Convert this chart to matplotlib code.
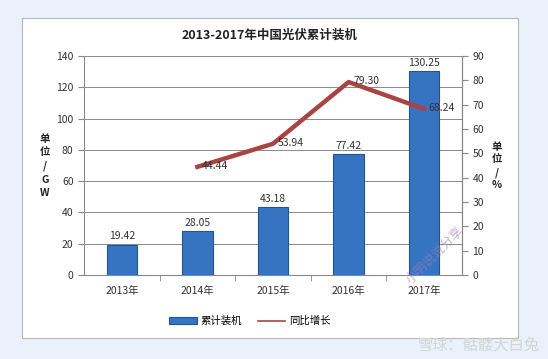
import matplotlib
matplotlib.use("Agg")
import matplotlib.pyplot as plt
from matplotlib.patches import Rectangle
from matplotlib.lines import Line2D

plt.rcParams['font.family'] = ['Noto Sans CJK SC', 'DejaVu Sans']

years = ["2013年", "2014年", "2015年", "2016年", "2017年"]
capacity = [19.42, 28.05, 43.18, 77.42, 130.25]
growth_years = ["2014年", "2015年", "2016年", "2017年"]
growth = [44.44, 53.94, 79.30, 68.24]

W, H = 548, 359
fig = plt.figure(figsize=(W/100, H/100), dpi=100)
fig.patch.set_facecolor('#eaf1fa')
panel = Rectangle((22/W, 1-338/H), (518-22)/W, (338-18)/H, transform=fig.transFigure,
                  facecolor='white', edgecolor='#b8b8b8', lw=0.8, zorder=-10)
fig.add_artist(panel)

ax = fig.add_axes([84/W, 1-275/H, (462-84)/W, (275-56)/H])
ax.set_facecolor('white')
x = list(range(len(years)))
bars = ax.bar(x, capacity, width=0.4, color='#3674c2', edgecolor='#24548f', lw=0.8, zorder=3,
              label='累计装机')
ax.set_xlim(-0.5, len(years)-0.5)
ax.set_ylim(0, 140)
ax.set_yticks(range(0, 141, 20))
ax.yaxis.grid(True, color='#8a8a8a', lw=0.7, zorder=0)
ax.set_axisbelow(True)
ax.set_xticks(x)
ax.set_xticklabels(years, fontsize=7.5)
ax.set_xticks([i + 0.5 for i in range(len(years)-1)], minor=True)
ax.tick_params(axis='x', which='major', length=0, pad=8, colors='#333333')
ax.tick_params(axis='x', which='minor', length=4, color='#888888')
ax.tick_params(axis='y', labelsize=7.5, length=4, color='#888888', colors='#333333')
ax.spines['top'].set_visible(False)
for s in ['left', 'bottom', 'right']:
    ax.spines[s].set_color('#888888')
for xi, v in zip(x, capacity):
    ax.text(xi, v + 2, f"{v:.2f}", ha='center', va='bottom', fontsize=7.5, color='#333333', zorder=5)

ax2 = ax.twinx()
ax2.set_ylim(0, 90)
ax2.set_yticks(range(0, 91, 10))
ax2.tick_params(axis='y', labelsize=7.5, length=4, color='#888888', colors='#333333')
for s in ['top', 'left', 'bottom']:
    ax2.spines[s].set_visible(False)
ax2.spines['right'].set_color('#888888')
gx = [years.index(y) for y in growth_years]
line, = ax2.plot(gx, growth, color='#a84442', lw=3.2, zorder=4, label='同比增长')
for xi, v in zip(gx, growth):
    ax2.text(xi + 0.06, v + 0.3, f"{v:.2f}", ha='left', va='center', fontsize=7.5, color='#333333', zorder=6)

fig.text(270/W, 1-35/H, "2013-2017年中国光伏累计装机", ha='center', va='center', fontsize=9,
         fontweight='bold', color='#222222')
fig.text(45/W, 1-166/H, "单\n位\n/\nG\nW", ha='center', va='center', fontsize=7.5,
         fontweight='bold', color='#222222', linespacing=1.45)
fig.text(497/W, 1-166/H, "单\n位\n/\n%", ha='center', va='center', fontsize=7.5,
         fontweight='bold', color='#222222', linespacing=1.35)

line_handle = Line2D([], [], color='#a84442', lw=1.2)
fig.legend(handles=[bars, line_handle], labels=['累计装机', '同比增长'], loc='center',
           bbox_to_anchor=(250/W, 1-321/H), ncol=2, frameon=False, fontsize=7.5,
           handlelength=2.6, columnspacing=1.5, handletextpad=0.4)

fig.text(540/W, 1-345/H, "雪球：骷髅大白兔", ha='right', va='center', fontsize=11,
         color='#d4d4d4')
fig.text(435/W, 1-255/H, "小明说说分享", ha='center', va='center', fontsize=9, rotation=45,
         color='#9a7fb0', alpha=0.6)

fig.savefig("out.png", dpi=100, facecolor=fig.get_facecolor())
